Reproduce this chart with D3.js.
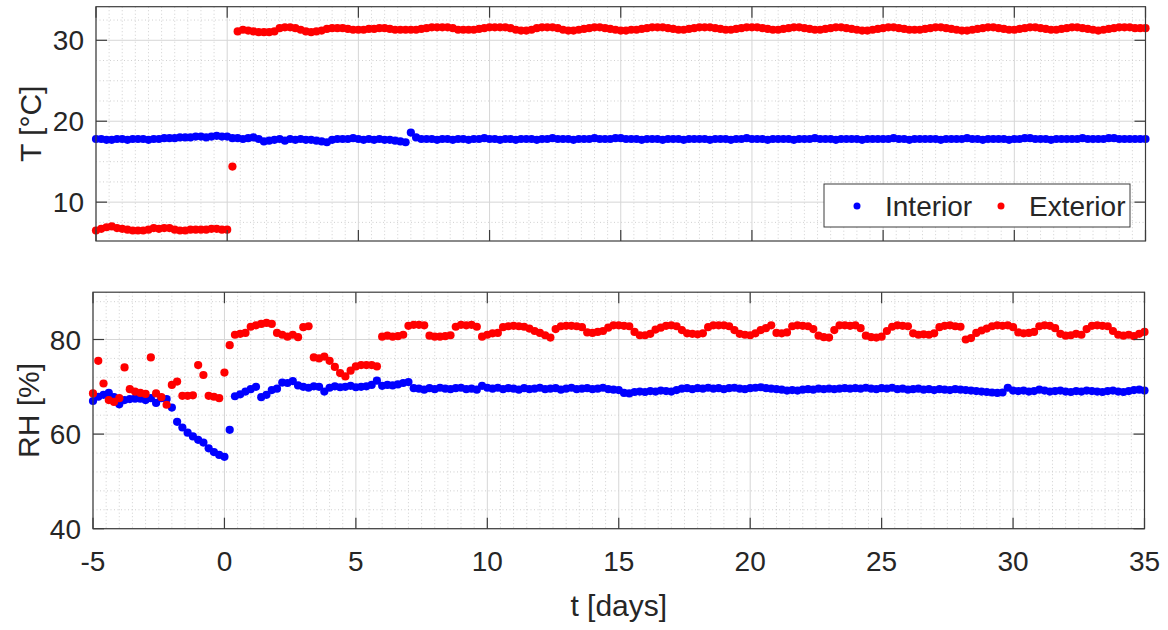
<!DOCTYPE html>
<html>
<head>
<meta charset="utf-8">
<script src="https://cdn.jsdelivr.net/npm/d3@7"></script>
<style>
body { margin: 0; background: #fff; }
text { font-family: "Liberation Sans", Arial, sans-serif; fill: #262626; }
</style>
</head>
<body>
<svg id="chart" width="1168" height="630"></svg>
<script>
// sampling grid: every 0.2 day from -5 to 35
var days = d3.range(201).map(function (i) { return -5 + i * 0.2 })

var tInterior = [
    17.8, 17.8, 17.7, 17.7, 17.8, 17.8, 17.7, 17.8, 17.8, 17.8,
    17.7, 17.8, 17.8, 17.9, 17.9, 17.9, 18.0, 18.0, 18.0, 18.1,
    18.1, 18.0, 18.1, 18.2, 18.1, 18.1, 17.9, 17.9, 17.8, 17.9,
    18.0, 17.8, 17.5, 17.6, 17.7, 17.8, 17.6, 17.8, 17.7, 17.8,
    17.7, 17.7, 17.6, 17.5, 17.4, 17.7, 17.8, 17.8, 17.8, 17.9,
    17.8, 17.7, 17.8, 17.7, 17.8, 17.7, 17.7, 17.6, 17.5, 17.4,
    18.6, 18.0, 17.8, 17.8, 17.8, 17.7, 17.8, 17.8, 17.7, 17.8,
    17.8, 17.7, 17.8, 17.8, 17.9, 17.8, 17.8, 17.7, 17.8, 17.8,
    17.7, 17.8, 17.8, 17.8, 17.7, 17.8, 17.8, 17.9, 17.8, 17.8,
    17.8, 17.7, 17.8, 17.8, 17.8, 17.9, 17.8, 17.8, 17.8, 17.9,
    17.9, 17.8, 17.8, 17.8, 17.7, 17.8, 17.8, 17.8, 17.7, 17.8,
    17.8, 17.8, 17.7, 17.8, 17.8, 17.8, 17.8, 17.7, 17.8, 17.8,
    17.8, 17.7, 17.8, 17.8, 17.9, 17.8, 17.8, 17.8, 17.7, 17.8,
    17.8, 17.8, 17.8, 17.7, 17.8, 17.8, 17.8, 17.9, 17.8, 17.8,
    17.8, 17.7, 17.8, 17.8, 17.8, 17.8, 17.7, 17.8, 17.8, 17.8,
    17.8, 17.8, 17.9, 17.8, 17.8, 17.7, 17.8, 17.8, 17.8, 17.8,
    17.8, 17.7, 17.8, 17.8, 17.8, 17.8, 17.9, 17.8, 17.8, 17.7,
    17.8, 17.8, 17.8, 17.8, 17.7, 17.8, 17.8, 17.9, 17.9, 17.8,
    17.8, 17.8, 17.7, 17.8, 17.8, 17.8, 17.8, 17.8, 17.9, 17.8,
    17.8, 17.8, 17.8, 17.9, 17.9, 17.8, 17.8, 17.8, 17.8, 17.8,
    17.8
]
var tExterior = [
    6.5, 6.7, 6.9, 7.0, 6.8, 6.7, 6.6, 6.5, 6.5, 6.5,
    6.6, 6.8, 6.7, 6.8, 6.8, 6.6, 6.5, 6.5, 6.6, 6.6,
    6.6, 6.6, 6.7, 6.7, 6.6, 6.6, 14.4, 31.1, 31.3, 31.2,
    31.1, 31.0, 31.0, 31.0, 31.1, 31.5, 31.6, 31.6, 31.5, 31.3,
    31.1, 31.0, 31.1, 31.2, 31.4, 31.5, 31.5, 31.5, 31.4, 31.3,
    31.3, 31.3, 31.4, 31.4, 31.5, 31.5, 31.4, 31.3, 31.3, 31.3,
    31.3, 31.3, 31.4, 31.5, 31.6, 31.6, 31.6, 31.6, 31.5, 31.3,
    31.3, 31.3, 31.3, 31.4, 31.5, 31.6, 31.6, 31.6, 31.6, 31.5,
    31.3, 31.2, 31.2, 31.3, 31.5, 31.6, 31.6, 31.6, 31.5, 31.3,
    31.2, 31.2, 31.3, 31.4, 31.5, 31.6, 31.6, 31.5, 31.4, 31.3,
    31.2, 31.2, 31.3, 31.3, 31.4, 31.5, 31.6, 31.6, 31.6, 31.5,
    31.4, 31.3, 31.3, 31.4, 31.5, 31.6, 31.6, 31.6, 31.5, 31.4,
    31.3, 31.3, 31.4, 31.5, 31.6, 31.6, 31.6, 31.5, 31.4, 31.3,
    31.3, 31.4, 31.5, 31.6, 31.6, 31.5, 31.4, 31.3, 31.3, 31.4,
    31.5, 31.6, 31.6, 31.5, 31.4, 31.3, 31.2, 31.2, 31.3, 31.4,
    31.5, 31.6, 31.6, 31.5, 31.4, 31.3, 31.3, 31.3, 31.4, 31.5,
    31.6, 31.6, 31.5, 31.4, 31.3, 31.2, 31.2, 31.3, 31.4, 31.5,
    31.6, 31.6, 31.5, 31.4, 31.3, 31.3, 31.4, 31.5, 31.6, 31.6,
    31.5, 31.4, 31.3, 31.3, 31.4, 31.5, 31.6, 31.6, 31.5, 31.4,
    31.3, 31.2, 31.3, 31.4, 31.5, 31.6, 31.6, 31.6, 31.5, 31.5,
    31.5
]
var rhInterior = [
    67.0, 67.9, 68.3, 68.7, 67.8, 66.3, 67.2, 67.4, 67.5, 67.5,
    67.2, 67.6, 66.6, 67.6, 67.4, 65.6, 62.6, 61.4, 60.3, 59.5,
    58.8, 58.2, 57.0, 56.2, 55.6, 55.2, 60.9, 68.0, 68.4, 69.0,
    69.5, 70.0, 67.8, 68.3, 69.3, 69.6, 70.9, 70.8, 71.2, 70.3,
    70.0, 69.8, 70.1, 70.0, 69.0, 69.8, 70.1, 69.9, 70.0, 70.2,
    69.9, 70.0, 70.1, 70.4, 71.3, 70.2, 70.4, 70.3, 70.5, 70.8,
    71.0, 69.7, 69.6, 69.4, 69.7, 69.5, 69.8, 69.6, 69.5, 69.7,
    69.8, 69.5, 69.6, 69.4, 70.2, 69.8, 69.6, 69.8, 69.5, 69.7,
    69.6, 69.4, 69.7, 69.5, 69.6, 69.8, 69.5, 69.6, 69.7, 69.4,
    69.6, 69.8, 69.5, 69.6, 69.7, 69.5, 69.6, 69.8, 69.5, 69.4,
    69.3, 68.7, 68.6, 68.9, 69.0, 68.9, 69.1, 69.0, 69.2, 69.1,
    69.0, 69.3, 69.6, 69.7, 69.5, 69.7, 69.6, 69.8, 69.6, 69.7,
    69.5, 69.7, 69.8, 69.6, 69.5, 69.7, 69.8, 69.9, 69.7, 69.6,
    69.5, 69.4, 69.2, 69.3, 69.2, 69.4, 69.5, 69.4, 69.6, 69.5,
    69.6, 69.5, 69.6, 69.7, 69.6, 69.7, 69.6, 69.8, 69.6, 69.5,
    69.7, 69.6, 69.8, 69.5, 69.6, 69.4, 69.5, 69.6, 69.4, 69.5,
    69.3, 69.5, 69.4, 69.3, 69.5, 69.4, 69.3, 69.2, 69.1, 69.0,
    68.9, 68.8, 68.7, 68.8, 69.8, 69.2, 69.1, 69.2, 69.0, 69.1,
    69.4, 69.2, 69.0, 69.1, 69.2, 69.0, 68.9, 69.1, 69.0, 69.2,
    69.1, 69.0, 68.9, 69.1, 69.2, 69.0, 68.9, 69.1, 69.3, 69.4,
    69.2
]
var rhExterior = [
    68.6, 75.5, 70.7, 67.2, 66.8, 67.6, 74.1, 69.5, 69.0, 68.7,
    68.5, 76.2, 68.6, 67.8, 66.2, 70.4, 71.1, 68.1, 68.1, 68.2,
    74.6, 72.5, 68.1, 67.9, 67.6, 73.0, 78.8, 81.0, 81.2, 81.4,
    82.7, 83.0, 83.3, 83.5, 83.3, 81.4, 81.0, 80.6, 81.0, 80.5,
    82.6, 82.8, 76.2, 76.0, 76.4, 75.5, 74.2, 72.9, 72.2, 73.4,
    74.3, 74.6, 74.6, 74.6, 74.3, 80.6, 80.8, 80.6, 80.7, 81.0,
    82.9, 83.1, 83.1, 83.0, 80.8, 80.6, 80.6, 80.7, 80.9, 82.7,
    83.1, 83.0, 83.1, 82.7, 80.6, 81.0, 81.3, 81.4, 82.6, 82.8,
    82.9, 82.8, 82.7, 82.3, 81.8, 81.4, 80.9, 80.4, 82.2, 82.8,
    82.9, 82.9, 82.8, 82.6, 81.5, 81.4, 81.6, 81.8, 82.5, 83.0,
    83.0, 82.9, 82.8, 81.6, 80.9, 80.9, 81.2, 82.1, 82.5, 82.9,
    83.0, 82.8, 82.0, 81.3, 81.2, 81.1, 81.3, 82.6, 83.0, 83.0,
    83.0, 82.8, 82.0, 81.2, 81.0, 80.9, 81.3, 82.0, 82.4, 83.0,
    81.4, 81.3, 81.5, 82.8, 83.0, 82.9, 82.8, 82.2, 80.8, 80.5,
    80.4, 82.0, 83.0, 83.0, 82.9, 83.0, 82.4, 80.8, 80.5, 80.4,
    80.6, 81.8, 82.7, 83.0, 82.9, 82.8, 81.3, 81.0, 81.1, 81.0,
    81.3, 82.6, 82.9, 83.0, 82.8, 82.7, 80.0, 80.3, 81.4, 81.9,
    82.3, 82.8, 83.0, 82.9, 83.0, 82.6, 81.5, 81.3, 81.4, 81.6,
    82.8, 83.0, 82.9, 82.4, 81.2, 80.8, 80.9, 81.2, 81.0, 82.2,
    82.9, 83.0, 82.9, 82.8, 81.8, 81.0, 80.8, 81.0, 80.7, 81.2,
    81.6
]

var xTicks = [-5, 0, 5, 10, 15, 20, 25, 30, 35]
var tTicks = [10, 20, 30]
var rhTicks = [40, 60, 80]
var seriesNames = ["Interior", "Exterior"]
var seriesColors = ["#0000ff", "#ff0000"]

var svg = d3.select("#chart")
var tickLen = 11
var dotR = 4.1

function drawPanel(p) {
    var x = d3.scaleLinear().domain([-5, 35]).range([p.left, p.right])
    var y = d3.scaleLinear().domain(p.yDomain).range([p.bottom, p.top])
    var g = svg.append("g")

    // minor grid (dotted)
    var xMinor = d3.range(-5, 35.001, 0.5).filter(function (v) { return xTicks.indexOf(v) < 0 })
    var yMinor = d3.range(p.minorStart, p.yDomain[1], p.minorStep).filter(function (v) {
        return p.yTicks.indexOf(v) < 0 && v > p.yDomain[0]
    })
    g.append("g").selectAll("line").data(xMinor).enter().append("line")
        .attr("x1", function (d) { return x(d) }).attr("x2", function (d) { return x(d) })
        .attr("y1", p.top).attr("y2", p.bottom)
        .attr("stroke", "#c4c4c4").attr("stroke-width", 0.8).attr("stroke-dasharray", "1,2.5")
    g.append("g").selectAll("line").data(yMinor).enter().append("line")
        .attr("y1", function (d) { return y(d) }).attr("y2", function (d) { return y(d) })
        .attr("x1", p.left).attr("x2", p.right)
        .attr("stroke", "#c4c4c4").attr("stroke-width", 0.8).attr("stroke-dasharray", "1,2.5")

    // major grid
    g.append("g").selectAll("line").data(xTicks).enter().append("line")
        .attr("x1", function (d) { return x(d) }).attr("x2", function (d) { return x(d) })
        .attr("y1", p.top).attr("y2", p.bottom)
        .attr("stroke", "#d6d6d6").attr("stroke-width", 1)
    g.append("g").selectAll("line").data(p.yTicks).enter().append("line")
        .attr("y1", function (d) { return y(d) }).attr("y2", function (d) { return y(d) })
        .attr("x1", p.left).attr("x2", p.right)
        .attr("stroke", "#d6d6d6").attr("stroke-width", 1)

    // data points
    p.series.forEach(function (s, k) {
        g.append("g").selectAll("circle").data(s).enter().append("circle")
            .attr("cx", function (d, i) { return x(days[i]) })
            .attr("cy", function (d) { return y(d) })
            .attr("r", dotR)
            .attr("fill", seriesColors[k])
    })

    // frame
    g.append("rect")
        .attr("x", p.left).attr("y", p.top)
        .attr("width", p.right - p.left).attr("height", p.bottom - p.top)
        .attr("fill", "none").attr("stroke", "#3c3c3c").attr("stroke-width", 1.2)

    // ticks inside on all four sides
    var ticks = g.append("g").attr("stroke", "#3c3c3c").attr("stroke-width", 1.2)
    xTicks.forEach(function (v) {
        ticks.append("line").attr("x1", x(v)).attr("x2", x(v)).attr("y1", p.bottom).attr("y2", p.bottom - tickLen)
        ticks.append("line").attr("x1", x(v)).attr("x2", x(v)).attr("y1", p.top).attr("y2", p.top + tickLen)
    })
    p.yTicks.forEach(function (v) {
        ticks.append("line").attr("x1", p.left).attr("x2", p.left + tickLen).attr("y1", y(v)).attr("y2", y(v))
        ticks.append("line").attr("x1", p.right).attr("x2", p.right - tickLen).attr("y1", y(v)).attr("y2", y(v))
    })

    // y tick labels
    g.append("g").selectAll("text").data(p.yTicks).enter().append("text")
        .attr("x", p.left - 12)
        .attr("y", function (d) { return y(d) })
        .attr("dy", "0.36em")
        .attr("text-anchor", "end")
        .style("font-size", "28px")
        .text(function (d) { return d })

    // y axis label
    g.append("text")
        .attr("transform", "translate(" + p.labelX + "," + ((p.top + p.bottom) / 2) + ") rotate(-90)")
        .attr("dy", "0.36em")
        .attr("text-anchor", "middle")
        .style("font-size", "30px")
        .text(p.label)

    if (p.xLabels) {
        g.append("g").selectAll("text").data(xTicks).enter().append("text")
            .attr("x", function (d) { return x(d) })
            .attr("y", p.bottom + 42)
            .attr("text-anchor", "middle")
            .style("font-size", "28px")
            .text(function (d) { return d })
        g.append("text")
            .attr("x", (p.left + p.right) / 2)
            .attr("y", 616)
            .attr("text-anchor", "middle")
            .style("font-size", "30px")
            .text("t [days]")
    }
    return g
}

drawPanel({
    left: 96, right: 1145.5, top: 6.7, bottom: 241,
    yDomain: [5.2, 34.15], yTicks: tTicks, minorStart: 5, minorStep: 2.5,
    series: [tInterior, tExterior], label: "T [°C]", labelX: 30
})
drawPanel({
    left: 93, right: 1144.5, top: 292.2, bottom: 528.7,
    yDomain: [40, 90], yTicks: rhTicks, minorStart: 40, minorStep: 4,
    series: [rhInterior, rhExterior], label: "RH [%]", labelX: 28, xLabels: true
})

// legend
var legend = svg.append("g")
legend.append("rect")
    .attr("x", 824).attr("y", 184).attr("width", 306).attr("height", 43)
    .attr("fill", "#fff").attr("stroke", "#3c3c3c").attr("stroke-width", 1)
var legendX = [857, 1001]
seriesNames.forEach(function (name, k) {
    legend.append("circle")
        .attr("cx", legendX[k]).attr("cy", 206).attr("r", 3.5)
        .attr("fill", seriesColors[k])
    legend.append("text")
        .attr("x", legendX[k] + 28).attr("y", 206)
        .attr("dy", "0.36em")
        .style("font-size", "28px")
        .text(name)
})
</script>
</body>
</html>
